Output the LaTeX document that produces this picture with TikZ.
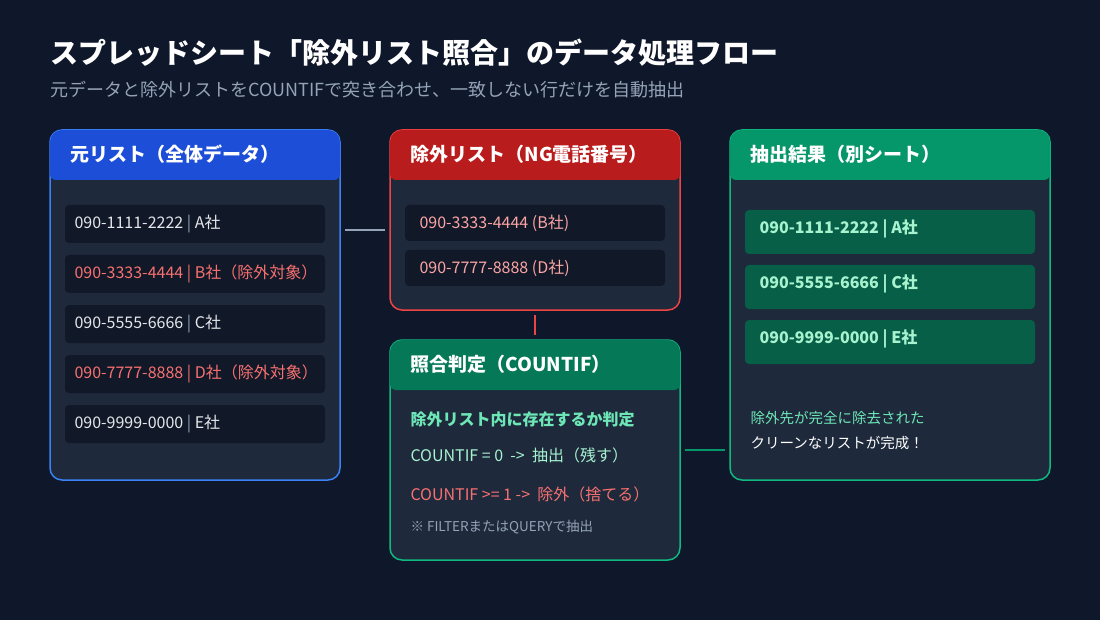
\documentclass[tikz,border=0pt]{standalone}
\usepackage{fontspec}
\setmainfont{Noto Sans CJK JP}
\usepackage{tikz}
\usetikzlibrary{positioning}

\definecolor{bg}{HTML}{0F172A}
\definecolor{body}{HTML}{1E293B}
\definecolor{rowbg}{HTML}{111827}
\definecolor{subgray}{HTML}{94A3B8}
\definecolor{blueh}{HTML}{1D4ED8}
\definecolor{blueb}{HTML}{3B82F6}
\definecolor{redh}{HTML}{B91C1C}
\definecolor{redb}{HTML}{EF4444}
\definecolor{redt}{HTML}{F87171}
\definecolor{pinkt}{HTML}{FCA5A5}
\definecolor{greenh}{HTML}{047857}
\definecolor{greenr}{HTML}{059669}
\definecolor{greenb}{HTML}{10B981}
\definecolor{greent}{HTML}{6EE7B7}
\definecolor{greenrow}{HTML}{065F46}
\definecolor{greenpale}{HTML}{A7F3D0}
\definecolor{rowtxt}{HTML}{E5E7EB}

\tikzset{
  panel/.style={draw=#1,line width=1.5pt,fill=body,rounded corners=12pt},
  headtxt/.style={anchor=west,text=white,font=\fontsize{19}{21}\selectfont\bfseries},
  row/.style={fill=rowbg,rounded corners=4pt},
  rowtext/.style={anchor=west,font=\fontsize{16}{18}\selectfont},
  link/.style={line width=2.5pt}
}

% x1,y1,x2,y2,header bottom,header colour,border colour
\newcommand{\boxpanel}[7]{
  \draw[panel=#7] (#1,#2) rectangle (#3,#4);
  \fill[#6] (#1,#5) [rounded corners=12pt] -- (#1,#2) -- (#3,#2)
    [rounded corners=6pt] -- (#3,#5) -- cycle;
}

\begin{document}
\begin{tikzpicture}[x=1pt,y=-1pt]
  \fill[bg] (0,0) rectangle (1100,620);
  \useasboundingbox (0,0) rectangle (1100,620);

  % title
  \node[anchor=west,text=white,font=\fontsize{28}{32}\selectfont\bfseries]
    (title) at (47,53) {スプレッドシート「除外リスト照合」のデータ処理フロー};
  \node[anchor=west,text=subgray,font=\fontsize{18}{20}\selectfont]
    (subtitle) at (47,90) {元データと除外リストをCOUNTIFで突き合わせ、一致しない行だけを自動抽出};

  % source list
  \boxpanel{50}{130}{340}{480}{180}{blueh}{blueb}
  \node[headtxt] (srchead) at (67,154) {元リスト（全体データ）};
  \foreach \y/\txt/\col in {
      224/{090-1111-2222 {\color{subgray}|} A社}/rowtxt,
      274/{090-3333-4444 | B社（除外対象）}/redt,
      324/{090-5555-6666 {\color{subgray}|} C社}/rowtxt,
      374/{090-7777-8888 | D社（除外対象）}/redt,
      424/{090-9999-0000 {\color{subgray}|} E社}/rowtxt} {
    \fill[row] (65,\y-19) rectangle (325,\y+19);
    \node[rowtext,text=\col] at (71,\y) {\txt};
  }

  % exclusion list
  \boxpanel{390}{130}{680}{310}{180}{redh}{redb}
  \node[headtxt] (nghead) at (407,154) {除外リスト（NG電話番号）};
  \foreach \y/\txt in {223/{090-3333-4444 (B社)}, 268/{090-7777-8888 (D社)}} {
    \fill[row] (405,\y-18) rectangle (665,\y+18);
    \node[rowtext,text=pinkt] at (416,\y) {\txt};
  }

  % match check
  \boxpanel{390}{340}{680}{560}{390}{greenh}{greenb}
  \node[headtxt] (chkhead) at (407,364) {照合判定（COUNTIF）};
  \node[rowtext,text=greent,font=\fontsize{16}{18}\selectfont\bfseries]
    (chk1) at (407,419) {除外リスト内に存在するか判定};
  \node[rowtext,text=greenpale] (chk2) at (407,455) {COUNTIF = 0 \ -> \ 抽出（残す）};
  \node[rowtext,text=redt] (chk3) at (407,494) {COUNTIF >= 1 -> \ 除外（捨てる）};
  \node[rowtext,text=subgray,font=\fontsize{13.5}{15}\selectfont]
    (chk4) at (407,527) {※ FILTERまたはQUERYで抽出};

  % result
  \boxpanel{730}{130}{1050}{480}{180}{greenr}{greenb}
  \node[headtxt] (reshead) at (747,154) {抽出結果（別シート）};
  \foreach \y/\txt in {232/{090-1111-2222 | A社}, 287/{090-5555-6666 | C社},
      342/{090-9999-0000 | E社}} {
    \fill[greenrow,rounded corners=4pt] (745,\y-22) rectangle (1035,\y+22);
    \node[rowtext,text=greenpale,font=\fontsize{16}{18}\selectfont\bfseries]
      at (756,\y-3) {\txt};
  }
  \node[rowtext,text=greent,font=\fontsize{14.5}{16}\selectfont]
    (res1) at (747,418) {除外先が完全に除去された};
  \node[rowtext,text=white,font=\fontsize{14.5}{16}\selectfont]
    (res2) at (747,443) {クリーンなリストが完成！};

  % links
  \coordinate (a1) at (345,230);
  \coordinate (a2) at (385,230);
  \coordinate (b1) at (535,315);
  \coordinate (b2) at (535,335);
  \coordinate (c1) at (685,450);
  \coordinate (c2) at (725,450);
  \draw[link,subgray] (a1) -- (a2);
  \draw[link,redb] (b1) -- (b2);
  \draw[link,greenr] (c1) -- (c2);
\end{tikzpicture}
\end{document}
